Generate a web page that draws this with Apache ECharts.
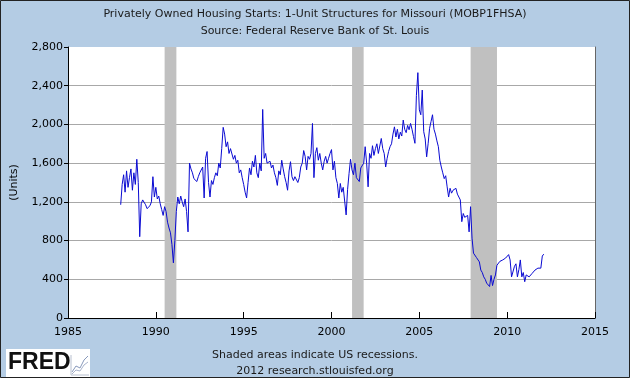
<!DOCTYPE html>
<html><head><meta charset="utf-8">
<script src="https://cdn.jsdelivr.net/npm/echarts@6/dist/echarts.min.js"></script>
<style>html,body{margin:0;padding:0;background:#b4cce4}#c{width:630px;height:378px}</style>
</head><body><div id="c"></div>
<script>
const titleLines = ['Privately Owned Housing Starts: 1-Unit Structures for Missouri (MOBP1FHSA)', 'Source: Federal Reserve Bank of St. Louis'];
const footerLines = ['Shaded areas indicate US recessions.', '2012 research.stlouisfed.org'];
const yAxisName = '(Units)';
const startYear = 1988;
const units1988 = [1170,1380,1480,1300,1520,1350,1450,1540,1320,1500,1380,1640];
const units1989 = [1400,840,1180,1220,1210,1170,1130,1150,1160,1200,1460,1250];
const units1990 = [1350,1230,1260,1180,1120,1060,1150,1100,990,930,880,760];
const units1991 = [570,800,1100,1250,1180,1260,1200,1150,1230,1100,890,1600];
const units1992 = [1540,1500,1440,1420,1410,1460,1500,1480,1560,1240,1650,1720];
const units1993 = [1400,1250,1420,1380,1450,1500,1470,1600,1550,1750,1970,1900];
const units1994 = [1770,1820,1700,1750,1770,1640,1680,1600,1630,1500,1530,1450];
const units1995 = [1380,1300,1240,1400,1550,1480,1620,1560,1680,1500,1450,1600];
const units1996 = [1520,2155,1650,1700,1600,1580,1620,1550,1580,1500,1450,1370];
const units1997 = [1520,1480,1630,1540,1460,1400,1320,1520,1615,1460,1420,1460];
const units1998 = [1480,1400,1450,1560,1600,1730,1670,1530,1670,1640,1700,2010];
const units1999 = [1450,1700,1760,1630,1700,1600,1530,1620,1670,1600,1650,1700];
const units2000 = [1740,1530,1620,1450,1390,1240,1390,1300,1350,1330,1065,1330];
const units2001 = [1495,1640,1530,1480,1600,1450,1430,1410,1550,1530,1600,1770];
const units2002 = [1600,1355,1700,1650,1780,1680,1750,1800,1700,1720,1855,1750];
const units2003 = [1700,1560,1650,1720,1770,1800,1900,1975,1870,1950,1850,1920];
const units2004 = [1880,2045,1950,1915,1990,1945,2010,1950,1875,1805,2300,2535];
const units2005 = [2150,2100,2355,1925,1850,1665,1800,1960,2030,2100,1950,1900];
const units2006 = [1830,1770,1630,1560,1500,1440,1470,1355,1250,1340,1290,1320];
const units2007 = [1300,1340,1280,1300,1220,995,1080,1040,1030,1060,890,1150];
const units2008 = [825,670,650,625,640,580,495,470,425,400,360,380];
const units2009 = [325,440,335,400,445,545,560,585,570,600,590,620];
const units2010 = [635,655,600,425,445,535,560,425,500,600,425,470];
const units2011 = [375,445,460,425,440,460,480,495,500,515,530,515];
const units2012 = [640,660];
const recessionStarts = [1990.5, 2001.17, 2007.92];
const recessionEnds = [1991.17, 2001.83, 2009.42];
const xTicks = [1985, 1990, 1995, 2000, 2005, 2010, 2015];
const yTicks = [0, 400, 800, 1200, 1600, 2000, 2400, 2800];

const yearly = [units1988,units1989,units1990,units1991,units1992,units1993,units1994,units1995,units1996,units1997,units1998,units1999,units2000,units2001,units2002,units2003,units2004,units2005,units2006,units2007,units2008,units2009,units2010,units2011,units2012];
const seriesData = [];
yearly.forEach((arr, yi) => arr.forEach((v, m) => seriesData.push([startYear + yi + m / 12, v])));

const FONT = 'DejaVu Sans';
const chart = echarts.init(document.getElementById('c'), null, {renderer: 'canvas'});
chart.setOption({
  backgroundColor: '#b4cce4',
  animation: false,
  grid: {left: 68, right: 35, top: 47, bottom: 60, show: true, backgroundColor: '#ffffff', borderWidth: 0},
  title: [
    {text: titleLines.join('\n'), left: 'center', top: 1, textStyle: {fontFamily: FONT, fontSize: 11, fontWeight: 'normal', color: '#1a1a1a', lineHeight: 17}},
    {text: footerLines.join('\n'), left: 'center', top: 342, textStyle: {fontFamily: FONT, fontSize: 11, fontWeight: 'normal', color: '#1a1a1a', lineHeight: 16}}
  ],
  xAxis: {
    type: 'value', min: xTicks[0], max: xTicks[xTicks.length - 1], interval: 5,
    axisLine: {show: true, lineStyle: {color: '#000', width: 1}},
    axisTick: {show: true, inside: true, length: 6, lineStyle: {color: '#000'}},
    axisLabel: {fontFamily: FONT, fontSize: 11, color: '#000', margin: 9, formatter: v => String(v)},
    splitLine: {show: false}
  },
  yAxis: [{
    type: 'value', min: yTicks[0], max: yTicks[yTicks.length - 1], interval: 400,
    name: yAxisName, nameLocation: 'middle', nameGap: 48, nameRotate: 90,
    nameTextStyle: {fontFamily: FONT, fontSize: 11, color: '#000'},
    axisLine: {show: true, lineStyle: {color: '#000', width: 1}},
    axisTick: {show: true, length: 4, lineStyle: {color: '#000'}},
    axisLabel: {fontFamily: FONT, fontSize: 11, color: '#000', margin: 5,
      formatter: v => v.toLocaleString('en-US')},
    splitLine: {show: true, lineStyle: {color: ['#a8a8a8','#a8a8a8','#a8a8a8','#a8a8a8','#a8a8a8','#a8a8a8','#a8a8a8','rgba(0,0,0,0)'], width: 1}}
  }, {
    type: 'value', position: 'right', min: yTicks[0], max: yTicks[yTicks.length - 1],
    axisLine: {show: true, lineStyle: {color: '#666', width: 1}},
    axisTick: {show: false}, axisLabel: {show: false}, splitLine: {show: false}
  }],
  series: [{
    type: 'line', data: seriesData, showSymbol: false, symbol: 'none',
    lineStyle: {color: '#0a0ad2', width: 1},
    z: 3,
    markArea: {
      silent: true,
      itemStyle: {color: '#c0c0c0', opacity: 1},
      data: recessionStarts.map((s, i) => [{xAxis: s}, {xAxis: recessionEnds[i]}])
    }
  }],
  graphic: [
    {type: 'rect', shape: {x: 0.5, y: 0.5, width: 629, height: 377}, style: {fill: 'none', stroke: '#222', lineWidth: 1}, silent: true},
    {type: 'rect', shape: {x: 6, y: 349, width: 84, height: 28}, style: {fill: '#ffffff'}, silent: true},
    {type: 'text', left: 8, top: 351, style: {text: 'FRED', font: 'bold 23px "Liberation Sans", Arial, sans-serif', fill: '#111', letterSpacing: -1}},
    {type: 'polyline', shape: {points: [[72,372],[76,366],[80,368],[84,360],[88,356]]}, style: {stroke: '#8899bb', lineWidth: 1, fill: 'none'}},
    {type: 'polyline', shape: {points: [[72,374],[76,370],[80,371],[84,365],[88,362]]}, style: {stroke: '#aab4cc', lineWidth: 1, fill: 'none'}},
    {type: 'polyline', shape: {points: [[71,355],[71,375],[89,375]]}, style: {stroke: '#b8c0d0', lineWidth: 1, fill: 'none'}}
  ]
});
</script></body></html>
